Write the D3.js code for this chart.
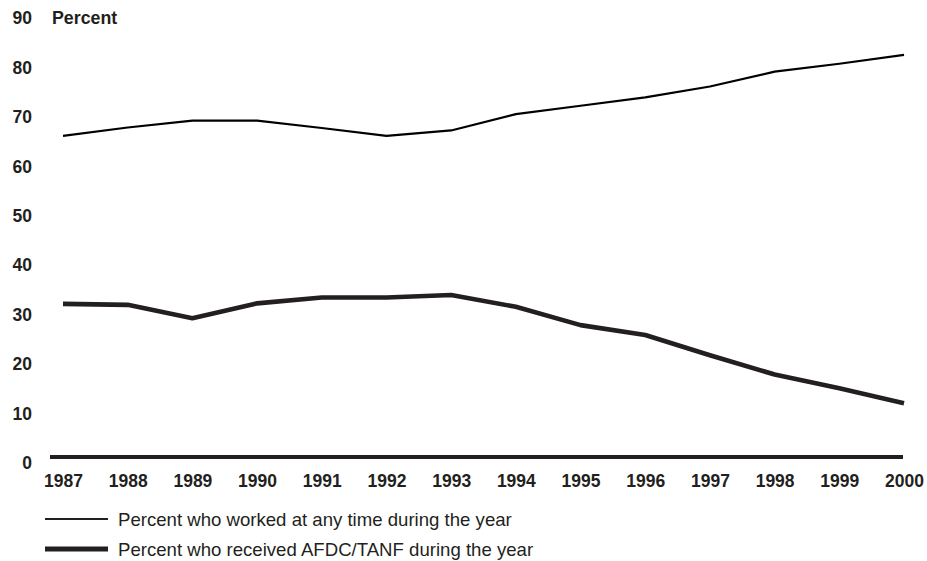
<!DOCTYPE html>
<html>
<head>
<meta charset="utf-8">
<script src="https://cdn.jsdelivr.net/npm/d3@7"></script>
<style>
  html, body { margin: 0; padding: 0; background: #fff; }
  svg { display: block; }
  text { font-family: "Liberation Sans", Arial, Helvetica, sans-serif; fill: #231f20; }
</style>
</head>
<body>
<svg id="chart" width="927" height="561"></svg>
<script>
const years = [1987, 1988, 1989, 1990, 1991, 1992, 1993, 1994, 1995, 1996, 1997, 1998, 1999, 2000];
const workedValues = [65.0, 66.7, 68.1, 68.1, 66.6, 65.0, 66.1, 69.4, 71.1, 72.8, 75.0, 78.0, 79.6, 81.4];
const afdcValues = [31.0, 30.8, 28.1, 31.1, 32.3, 32.3, 32.8, 30.4, 26.7, 24.7, 20.6, 16.7, 13.9, 10.9];
const yTicks = [0, 10, 20, 30, 40, 50, 60, 70, 80, 90];
const seriesNames = ["Percent who worked at any time during the year", "Percent who received AFDC/TANF during the year"];
const yAxisTitle = "Percent";

const svg = d3.select("#chart");
const ink = "#231f20";

const x = d3.scaleLinear().domain([1987, 2000]).range([63, 904]);
const y = d3.scaleLinear().domain([0, 90]).range([457, 12.4]);

// y tick labels
svg.append("g").selectAll("text").data(yTicks).join("text")
  .attr("x", 32)
  .attr("y", d => y(d) + 12)
  .attr("text-anchor", "end")
  .attr("font-size", 17.5)
  .attr("font-weight", "bold")
  .text(d => d);

svg.append("text")
  .attr("x", 52).attr("y", y(90) + 12)
  .attr("font-size", 17.8).attr("font-weight", "bold")
  .text(yAxisTitle);

// x axis via d3.axisBottom
const xAxis = d3.axisBottom(x).tickValues(years).tickFormat(d3.format("d")).tickSize(0).tickPadding(0);
const gx = svg.append("g").attr("transform", `translate(0, ${y(0)})`).call(xAxis);
gx.select(".domain").remove();
gx.selectAll("text")
  .attr("y", 30).attr("dy", null)
  .attr("font-size", 17.5).attr("font-weight", "bold")
  .attr("font-family", "Liberation Sans, Arial, sans-serif")
  .attr("fill", ink);

// baseline
svg.append("line")
  .attr("x1", 50).attr("x2", 903)
  .attr("y1", y(0)).attr("y2", y(0))
  .attr("stroke", ink).attr("stroke-width", 4);

const line = d3.line().x((d, i) => x(years[i])).y(d => y(d));

svg.append("path").datum(workedValues)
  .attr("d", line).attr("fill", "none")
  .attr("stroke", "#000").attr("stroke-width", 2.2).attr("stroke-linejoin", "round");

svg.append("path").datum(afdcValues)
  .attr("d", line).attr("fill", "none")
  .attr("stroke", ink).attr("stroke-width", 4.6).attr("stroke-linejoin", "round");

// legend
const legend = [
  { name: seriesNames[0], w: 2, y: 519 },
  { name: seriesNames[1], w: 5, y: 549 }
];
const lg = svg.append("g").selectAll("g").data(legend).join("g");
lg.append("line")
  .attr("x1", 45).attr("x2", 108)
  .attr("y1", d => d.y).attr("y2", d => d.y)
  .attr("stroke", ink).attr("stroke-width", d => d.w);
lg.append("text")
  .attr("x", 118).attr("y", d => d.y + 6.5)
  .attr("font-size", 18.6)
  .text(d => d.name);
</script>
</body>
</html>
